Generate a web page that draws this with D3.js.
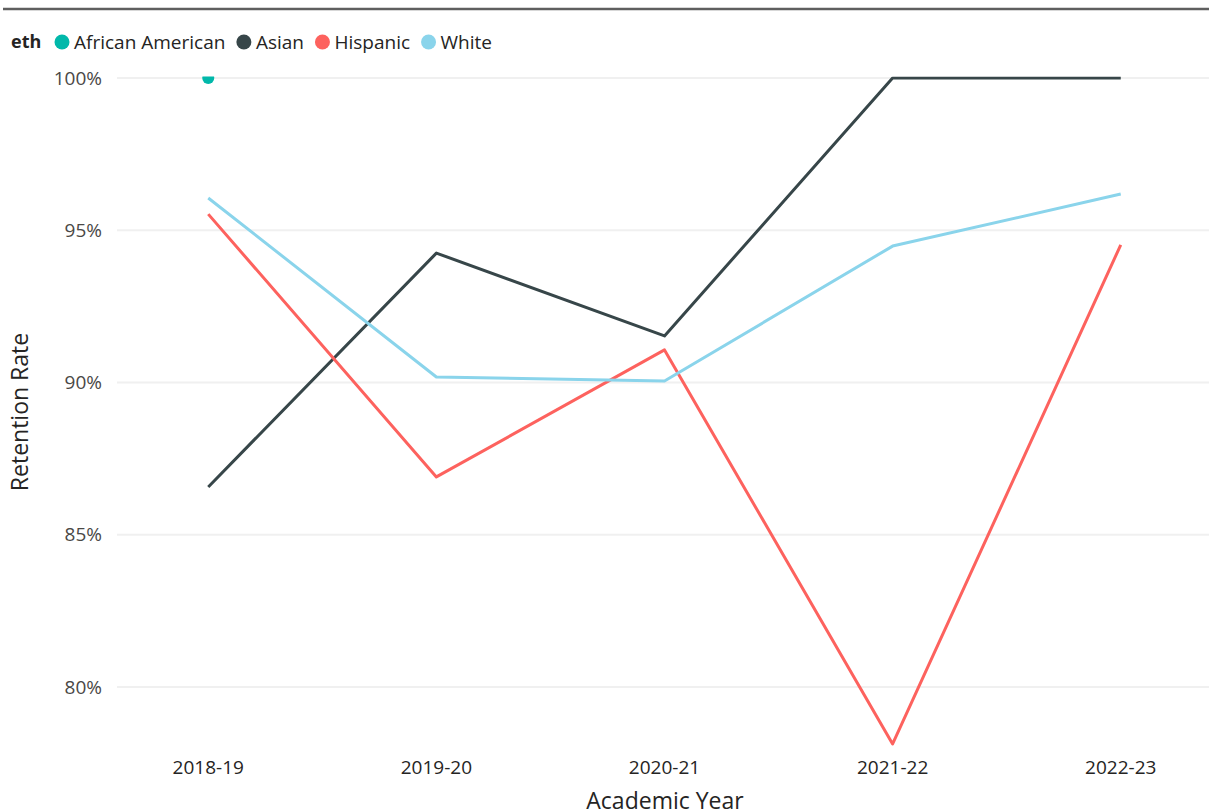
<!DOCTYPE html>
<html>
<head>
<meta charset="utf-8">
<script src="https://cdn.jsdelivr.net/npm/d3@7"></script>
<style>
	body { margin: 0; background: #fff; }
	text { font-family: "Open Sans", "Noto Sans", sans-serif; }
</style>
</head>
<body>
<script>
const width = 1209,
	height = 812,
	margin = { top: 78, right: 0, bottom: 125, left: 117 };

const years = ['2018-19', '2019-20', '2020-21', '2021-22', '2022-23'];
const groups = ['African American', 'Asian', 'Hispanic', 'White'];
const colors = ['#01B8AA', '#374649', '#FD625E', '#8AD4EB'];

// retention rate per year, null = no data
const africanAmerican = [1.0, null, null, null, null];
const asian = [0.8657, 0.9425, 0.9153, 1.0, 1.0];
const hispanic = [0.9553, 0.869, 0.9107, 0.7813, 0.9452];
const white = [0.9606, 0.9018, 0.9005, 0.9448, 0.9619];

const yTicks = [0.8, 0.85, 0.9, 0.95, 1.0];

const series = [africanAmerican, asian, hispanic, white].map((vals, i) => ({
	name: groups[i],
	color: colors[i],
	values: vals.map((v, j) => ({ year: years[j], v: v }))
}));

let svg = d3.select('body').append('svg')
	.attr('width', width)
	.attr('height', height);

// top border
svg.append('line')
	.attr('x1', 3).attr('x2', width)
	.attr('y1', 9).attr('y2', 9)
	.attr('stroke', '#5f5f5f')
	.attr('stroke-width', 2.5);

let x = d3.scalePoint()
	.domain(years)
	.range([margin.left, width + 3])
	.padding(0.4);

let y = d3.scaleLinear()
	.domain([0.8, 1.0])
	.range([687, margin.top]);

// gridlines
svg.append('g')
	.selectAll('line')
	.data(yTicks)
	.join('line')
	.attr('x1', margin.left)
	.attr('x2', width)
	.attr('y1', d => y(d))
	.attr('y2', d => y(d))
	.attr('stroke', '#f0f0f0')
	.attr('stroke-width', 2);

// y tick labels
svg.append('g')
	.selectAll('text')
	.data(yTicks)
	.join('text')
	.attr('x', 102)
	.attr('y', d => y(d))
	.attr('dy', '0.35em')
	.attr('text-anchor', 'end')
	.attr('font-size', '19px')
	.attr('fill', '#4a4846')
	.text(d3.format('.0%'));

// x tick labels
svg.append('g')
	.selectAll('text')
	.data(years)
	.join('text')
	.attr('x', d => x(d))
	.attr('y', 767)
	.attr('dy', '0.35em')
	.attr('text-anchor', 'middle')
	.attr('font-size', '19px')
	.attr('fill', '#252423')
	.text(d => d);

// axis titles
svg.append('text')
	.attr('x', 665)
	.attr('y', 801)
	.attr('dy', '0.35em')
	.attr('text-anchor', 'middle')
	.attr('font-size', '23px')
	.attr('fill', '#252423')
	.text('Academic Year');

svg.append('text')
	.attr('transform', 'translate(20,412) rotate(-90)')
	.attr('dy', '0.35em')
	.attr('text-anchor', 'middle')
	.attr('font-size', '23px')
	.attr('fill', '#252423')
	.text('Retention Rate');

// clip the plot area (the 100% marker gets cut at the top)
svg.append('clipPath').attr('id', 'plotClip')
	.append('rect')
	.attr('x', margin.left).attr('y', margin.top - 1.5)
	.attr('width', width - margin.left).attr('height', height);

let plot = svg.append('g').attr('clip-path', 'url(#plotClip)');

let line = d3.line()
	.defined(d => d.v != null)
	.x(d => x(d.year))
	.y(d => y(d.v));

plot.selectAll('path.series')
	.data(series)
	.join('path')
	.attr('class', 'series')
	.attr('fill', 'none')
	.attr('stroke', d => d.color)
	.attr('stroke-width', 3)
	.attr('stroke-linejoin', 'round')
	.attr('d', d => line(d.values));

// lone points get a marker
series.forEach(s => {
	let pts = s.values.filter((d, i) => d.v != null &&
		(i === 0 || s.values[i - 1].v == null) &&
		(i === s.values.length - 1 || s.values[i + 1].v == null));
	plot.selectAll(null)
		.data(pts)
		.join('circle')
		.attr('cx', d => x(d.year))
		.attr('cy', d => y(d.v))
		.attr('r', 6)
		.attr('fill', s.color);
});

// legend
let legend = svg.append('g').attr('transform', 'translate(0,42)');
legend.append('text')
	.attr('x', 11)
	.attr('dy', '0.35em')
	.attr('font-size', '18px')
	.attr('font-weight', 'bold')
	.attr('fill', '#252423')
	.text('eth');

let lx = 62;
groups.forEach((g, i) => {
	legend.append('circle')
		.attr('cx', lx)
		.attr('cy', 0)
		.attr('r', 7.5)
		.attr('fill', colors[i]);
	let t = legend.append('text')
		.attr('x', lx + 12)
		.attr('dy', '0.35em')
		.attr('font-size', '19px')
		.attr('fill', '#252423')
		.text(g);
	lx += 12 + t.node().getComputedTextLength() + 18.5;
});
</script>
</body>
</html>
